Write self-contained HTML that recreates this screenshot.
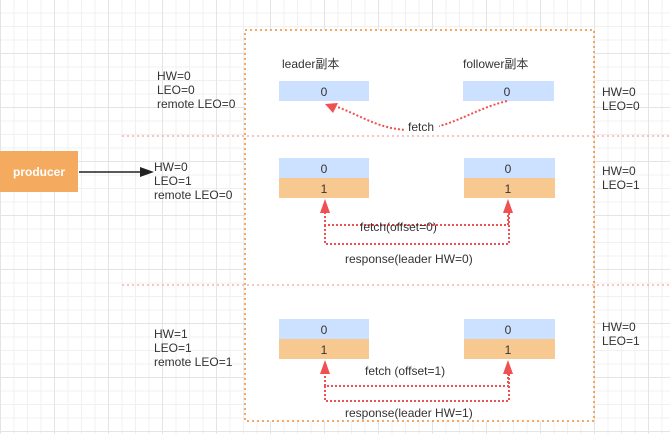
<!DOCTYPE html>
<html><head><meta charset="utf-8"><style>
body{margin:0;width:670px;height:434px;overflow:hidden;font-family:"Liberation Sans","Noto Sans CJK SC",sans-serif;
background-color:#fff;
background-image:linear-gradient(#e4e4e4 1px,transparent 1px),linear-gradient(90deg,#e4e4e4 1px,transparent 1px),linear-gradient(#f0f0f0 1px,transparent 1px),linear-gradient(90deg,#f0f0f0 1px,transparent 1px);
background-size:54px 54px,54px 54px,13.5px 13.5px,13.5px 13.5px;background-position:0 -1px,0 0,0 -1px,0 0;}
</style></head><body>
<svg width="670" height="434" style="position:absolute;left:0;top:0" font-family="Liberation Sans, Noto Sans CJK SC, sans-serif">
<defs>
<marker id="ar" markerWidth="10" markerHeight="10" refX="5" refY="5" orient="auto"><path d="M0,0 L10,5 L0,10 Z" fill="#f05050"/></marker>
</defs>
<rect x="245" y="30" width="349" height="391" fill="#fff" stroke="#f08c30" stroke-width="1.5" stroke-dasharray="2,3"/>
<line x1="122" y1="136" x2="670" y2="136" stroke="#f4a0a0" stroke-width="1.2" stroke-dasharray="2,3"/>
<line x1="122" y1="285" x2="670" y2="285" stroke="#f4a0a0" stroke-width="1.2" stroke-dasharray="2,3"/>
<rect x="0" y="151" width="78" height="41" fill="#f5ab5f"/>
<text x="39" y="176" text-anchor="middle" fill="#fff" font-size="12" font-weight="bold">producer</text>
<line x1="79" y1="172" x2="142" y2="172" stroke="#222" stroke-width="1.5"/>
<path d="M140,167 L154,172 L140,177 Z" fill="#222"/>
<g font-size="12" fill="#333">
<text x="157" y="80">HW=0</text><text x="157" y="94">LEO=0</text><text x="157" y="108">remote LEO=0</text>
<text x="154" y="171">HW=0</text><text x="154" y="185">LEO=1</text><text x="154" y="199">remote LEO=0</text>
<text x="154" y="338">HW=1</text><text x="154" y="352">LEO=1</text><text x="154" y="366">remote LEO=1</text>
<text x="602" y="96">HW=0</text><text x="602" y="110">LEO=0</text>
<text x="602" y="175">HW=0</text><text x="602" y="189">LEO=1</text>
<text x="602" y="331">HW=0</text><text x="602" y="345">LEO=1</text>
<text x="282" y="68">leader副本</text><text x="463" y="68">follower副本</text>
</g>
<g font-size="12" fill="#333" text-anchor="middle">
<rect x="279" y="81" width="90" height="20" fill="#cce0ff"/><text x="324" y="96">0</text>
<rect x="463" y="81" width="91" height="20" fill="#cce0ff"/><text x="507" y="96">0</text>
<rect x="279" y="158" width="90" height="20" fill="#cce0ff"/><text x="324" y="173">0</text>
<rect x="279" y="178" width="90" height="20" fill="#f8c891"/><text x="324" y="193">1</text>
<rect x="464" y="158" width="91" height="20" fill="#cce0ff"/><text x="508" y="173">0</text>
<rect x="464" y="178" width="91" height="20" fill="#f8c891"/><text x="508" y="193">1</text>
<rect x="279" y="319" width="90" height="20" fill="#cce0ff"/><text x="324" y="334">0</text>
<rect x="279" y="339" width="90" height="20" fill="#f8c891"/><text x="324" y="354">1</text>
<rect x="464" y="319" width="91" height="20" fill="#cce0ff"/><text x="508" y="334">0</text>
<rect x="464" y="339" width="91" height="20" fill="#f8c891"/><text x="508" y="354">1</text>
</g>
<g fill="none" stroke="#f05050" stroke-width="2" stroke-dasharray="2,2">
<path d="M507,101 C470,110 450,130 410,130 C380,130 360,115 335,106"/>
<path d="M325,208 L325,225 L508,225 L508,208"/>
<path d="M325,225 L325,244 L509,244 L509,208"/>
<path d="M325,372 L325,386 L508,386 L508,372"/>
<path d="M325,386 L325,401 L509,401 L509,372"/>
</g>
<g fill="#f05050">
<path d="M325,104 L338,103 L333,113 Z"/>
<path d="M325,199 L320,213 L330,213 Z"/>
<path d="M508,199 L503,213 L513,213 Z"/>
<path d="M325,360 L320,374 L330,374 Z"/>
<path d="M508,360 L503,374 L513,374 Z"/>
</g>
<g font-size="12" fill="#333">
<rect x="405" y="120" width="34" height="14" fill="#fff"/>
<text x="408" y="131">fetch</text>
<text x="360" y="231">fetch(offset=0)</text>
<text x="345" y="263">response(leader HW=0)</text>
<text x="365" y="375">fetch (offset=1)</text>
<text x="345" y="417">response(leader HW=1)</text>
</g>
</svg>
</body></html>
